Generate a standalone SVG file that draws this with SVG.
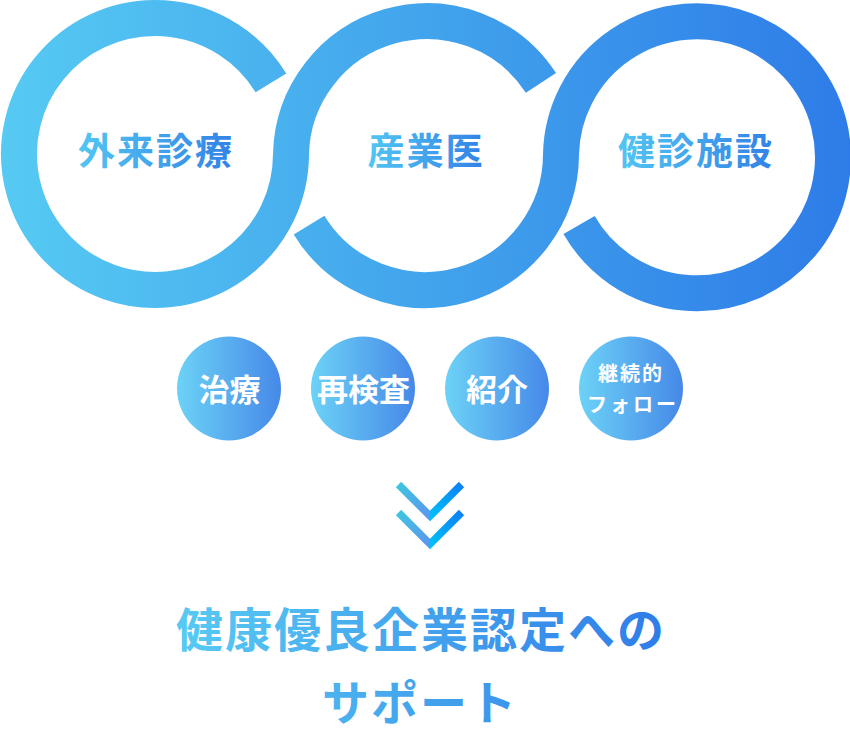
<svg xmlns="http://www.w3.org/2000/svg" width="850" height="739" viewBox="0 0 850 739">
  <defs>
    <linearGradient id="ringGrad" gradientUnits="userSpaceOnUse" x1="0" y1="0" x2="850" y2="0">
      <stop offset="0" stop-color="#56caf3"/>
      <stop offset="0.5" stop-color="#42a4ec"/>
      <stop offset="1" stop-color="#2e7ce8"/>
    </linearGradient>
    <linearGradient id="labelGrad" x1="0" y1="0" x2="1" y2="0">
      <stop offset="0" stop-color="#52c6f3"/>
      <stop offset="1" stop-color="#3282e6"/>
    </linearGradient>
    <linearGradient id="dotGrad" x1="0" y1="0" x2="1" y2="0">
      <stop offset="0" stop-color="#6cd2f6"/>
      <stop offset="1" stop-color="#4689e8"/>
    </linearGradient>
    <linearGradient id="titleGrad" gradientUnits="userSpaceOnUse" x1="177" y1="0" x2="663" y2="0">
      <stop offset="0" stop-color="#58caf3"/>
      <stop offset="1" stop-color="#2f7de8"/>
    </linearGradient>
    <linearGradient id="armL" gradientUnits="userSpaceOnUse" x1="398" y1="484" x2="430" y2="516">
      <stop offset="0" stop-color="#3ec6de"/>
      <stop offset="1" stop-color="#5c96ef"/>
    </linearGradient>
    <linearGradient id="armR" gradientUnits="userSpaceOnUse" x1="430" y1="516" x2="462" y2="484">
      <stop offset="0" stop-color="#00c0f8"/>
      <stop offset="1" stop-color="#0a7ff6"/>
    </linearGradient>
    <style>
      .ring { fill: none; stroke: url(#ringGrad); stroke-width: 36; stroke-linecap: butt; }
      .label { font-family: "Noto Sans CJK JP", "Noto Sans", sans-serif; font-weight: 700; font-size: 37px; letter-spacing: 2px; text-anchor: middle; fill: url(#labelGrad); }
      .dot { fill: url(#dotGrad); }
      .dotText { font-family: "Noto Sans CJK JP", "Noto Sans", sans-serif; font-weight: 700; fill: #ffffff; text-anchor: middle; }
      .big { font-size: 31px; }
      .small { font-size: 20px; }
      .title { font-family: "Noto Sans CJK JP", "Noto Sans", sans-serif; font-weight: 700; font-size: 47px; letter-spacing: 2px; text-anchor: middle; fill: url(#titleGrad); }
    </style>
  </defs>

  <g id="rings">
    <path class="ring" d="M270.95 82.94 A136 136 0 1 0 291 154 A136 136 0 0 1 540.95 82.94"/>
    <path class="ring" d="M309.05 225.06 A136 136 0 0 0 561 154 A136 136 0 1 1 579.05 225.06"/>
  </g>

  <g id="node-gairai">
    <text class="label" x="156" y="165">外来診療</text>
  </g>
  <g id="node-sangyoui">
    <text class="label" x="426" y="165">産業医</text>
  </g>
  <g id="node-kenshin">
    <text class="label" x="696" y="165">健診施設</text>
  </g>

  <g id="node-chiryo">
    <circle class="dot" cx="229" cy="388.5" r="52"/>
    <text class="dotText big" x="229.5" y="401">治療</text>
  </g>
  <g id="node-saikensa">
    <circle class="dot" cx="363" cy="388.5" r="52"/>
    <text class="dotText big" x="363.5" y="401">再検査</text>
  </g>
  <g id="node-shokai">
    <circle class="dot" cx="497" cy="388.5" r="52"/>
    <text class="dotText big" x="497" y="401">紹介</text>
  </g>
  <g id="node-keizoku">
    <circle class="dot" cx="631" cy="388.5" r="52"/>
    <text class="dotText small" x="631" y="381" letter-spacing="2">継続的</text>
    <text class="dotText small" x="633" y="412" letter-spacing="3">フォロー</text>
  </g>

  <g id="arrow">
    <polygon fill="url(#armL)" points="401.15,481.85 430,510.7 430,521.3 395.85,487.15"/>
    <polygon fill="url(#armR)" points="458.85,481.85 430,510.7 430,521.3 464.15,487.15"/>
    <g transform="translate(0,28)">
      <polygon fill="url(#armL)" points="401.15,481.85 430,510.7 430,521.3 395.85,487.15"/>
      <polygon fill="url(#armR)" points="458.85,481.85 430,510.7 430,521.3 464.15,487.15"/>
    </g>
  </g>

  <g id="node-goal">
    <text class="title" x="421" y="647">健康優良企業認定への</text>
    <text class="title" x="420" y="720">サポート</text>
  </g>
</svg>
